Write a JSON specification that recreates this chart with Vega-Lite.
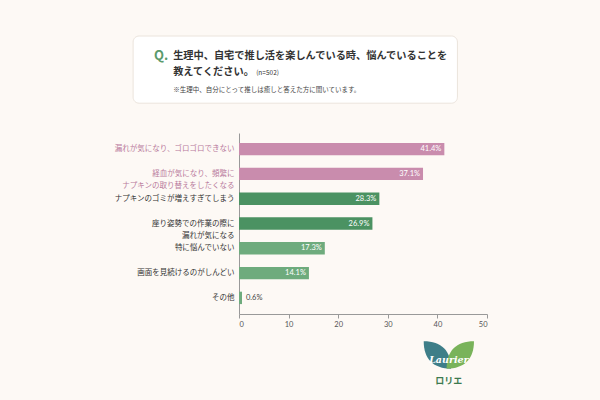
{
  "$schema": "https://vega.github.io/schema/vega-lite/v6.json",
  "background": "#fdf9f5",
  "padding": {"top": 35, "left": 114, "right": 112, "bottom": 11},
  "config": {
    "font": "Noto Sans CJK JP",
    "view": {"stroke": null},
    "concat": {"spacing": 13}
  },
  "vconcat": [
    {
      "width": 248,
      "height": 84,
      "layer": [
        {
          "data": {"values": [{"box": "question"}]},
          "mark": {"type": "rect", "fill": "#ffffff", "stroke": "#ebe4dc", "strokeWidth": 1, "cornerRadius": 6},
          "encoding": {
            "x": {"datum": -111, "type": "quantitative", "scale": {"domain": [0, 248]}, "axis": null},
            "x2": {"datum": 229},
            "y": {"datum": 0, "type": "quantitative", "scale": {"domain": [84, 0]}, "axis": null},
            "y2": {"datum": 72}
          }
        },
        {
          "data": {"values": [{"text": "Q."}]},
          "mark": {"type": "text", "align": "left", "baseline": "middle", "fontSize": 13, "fontWeight": "bold", "color": "#5b9a6c"},
          "encoding": {
            "x": {"datum": -89, "type": "quantitative"},
            "y": {"datum": 21, "type": "quantitative"},
            "text": {"field": "text"}
          }
        },
        {
          "data": {"values": [{"text": "生理中、自宅で推し活を楽しんでいる時、悩んでいることを"}]},
          "mark": {"type": "text", "align": "left", "baseline": "middle", "fontSize": 10.2, "fontWeight": "bold", "color": "#333333"},
          "encoding": {
            "x": {"datum": -69, "type": "quantitative"},
            "y": {"datum": 21, "type": "quantitative"},
            "text": {"field": "text"}
          }
        },
        {
          "data": {"values": [{"text": "教えてください。"}]},
          "mark": {"type": "text", "align": "left", "baseline": "middle", "fontSize": 10.2, "fontWeight": "bold", "color": "#333333"},
          "encoding": {
            "x": {"datum": -69, "type": "quantitative"},
            "y": {"datum": 39, "type": "quantitative"},
            "text": {"field": "text"}
          }
        },
        {
          "data": {"values": [{"text": "(n=502)"}]},
          "mark": {"type": "text", "align": "left", "baseline": "middle", "fontSize": 6.5, "color": "#333333"},
          "encoding": {
            "x": {"datum": 18, "type": "quantitative"},
            "y": {"datum": 40, "type": "quantitative"},
            "text": {"field": "text"}
          }
        },
        {
          "data": {"values": [{"text": "※生理中、自分にとって推しは癒しと答えた方に聞いています。"}]},
          "mark": {"type": "text", "align": "left", "baseline": "middle", "fontSize": 6.5, "color": "#444444"},
          "encoding": {
            "x": {"datum": -69, "type": "quantitative"},
            "y": {"datum": 58, "type": "quantitative"},
            "text": {"field": "text"}
          }
        }
      ]
    },
    {
      "width": 248,
      "height": 181,
      "data": {
        "values": [
          {"item": "漏れが気になり、ゴロゴロできない", "value": 41.4},
          {"item": "経血が気になり、頻繁に\nナプキンの取り替えをしたくなる", "value": 37.1},
          {"item": "ナプキンのゴミが増えすぎてしまう", "value": 28.3},
          {"item": "座り姿勢での作業の際に\n漏れが気になる", "value": 26.9},
          {"item": "特に悩んでいない", "value": 17.3},
          {"item": "画面を見続けるのがしんどい", "value": 14.1},
          {"item": "その他", "value": 0.6}
        ]
      },
      "transform": [{"calculate": "format(datum.value, '.1f') + '%'", "as": "label"}],
      "encoding": {
        "y": {
          "field": "item",
          "type": "nominal",
          "sort": null,
          "title": null,
          "scale": {"paddingInner": 0.5, "paddingOuter": 0.4},
          "axis": {
            "labelExpr": "split(datum.label, '\\n')",
            "labelFontSize": 7.5,
            "labelLineHeight": 12,
            "labelPadding": 5,
            "labelLimit": 200,
            "ticks": false,
            "domainColor": "#999999",
            "labelColor": {"condition": {"test": "indexof(datum.value, '漏れが気になり、ゴロゴロ') >= 0 || indexof(datum.value, '経血') >= 0", "value": "#b97a9c"}, "value": "#333333"}
          }
        },
        "x": {
          "field": "value",
          "type": "quantitative",
          "title": null,
          "scale": {"domain": [0, 50]},
          "axis": {
            "values": [0, 10, 20, 30, 40, 50],
            "grid": false,
            "labelFontSize": 7.5,
            "labelColor": "#555555",
            "domainColor": "#999999",
            "tickColor": "#999999",
            "tickSize": 4,
            "labelFont": "Lato"
          }
        }
      },
      "layer": [
        {
          "mark": {"type": "bar"},
          "encoding": {
            "color": {
              "condition": [
                {"test": "datum.value > 35", "value": "#c98cad"},
                {"test": "datum.value > 20", "value": "#4b9262"}
              ],
              "value": "#6eab7d"
            }
          }
        },
        {
          "transform": [{"filter": "datum.value >= 5"}],
          "mark": {"type": "text", "align": "right", "baseline": "middle", "dx": -3, "fontSize": 7.5, "color": "#ffffff", "font": "Lato"},
          "encoding": {"text": {"field": "label"}}
        },
        {
          "transform": [{"filter": "datum.value < 5"}],
          "mark": {"type": "text", "align": "left", "baseline": "middle", "dx": 4, "fontSize": 7.5, "color": "#444444", "font": "Lato"},
          "encoding": {"text": {"field": "label"}}
        }
      ]
    },
    {
      "width": 248,
      "height": 45,
      "layer": [
        {
          "data": {"values": [{"leaf": "left"}]},
          "mark": {"type": "point", "filled": true, "color": "#3e7e88", "opacity": 1, "size": 750, "shape": "M 1 1 C -0.3 1 -1 0.3 -1 -1 C 0.3 -1 1 -0.3 1 1 Z"},
          "encoding": {
            "x": {"datum": 208, "type": "quantitative", "scale": {"domain": [0, 248]}, "axis": null},
            "y": {"datum": 4, "type": "quantitative", "scale": {"domain": [45, 0]}, "axis": null}
          }
        },
        {
          "data": {"values": [{"leaf": "right"}]},
          "mark": {"type": "point", "filled": true, "color": "#79b35a", "opacity": 1, "size": 750, "shape": "M -1 1 C 0.3 1 1 0.3 1 -1 C -0.3 -1 -1 -0.3 -1 1 Z"},
          "encoding": {
            "x": {"datum": 232, "type": "quantitative"},
            "y": {"datum": 4, "type": "quantitative"}
          }
        },
        {
          "data": {"values": [{"text": "Laurier"}]},
          "mark": {"type": "text", "align": "center", "baseline": "middle", "fontSize": 9.5, "fontStyle": "italic", "fontWeight": "bold", "font": "DejaVu Serif", "color": "#ffffff"},
          "encoding": {
            "x": {"datum": 220, "type": "quantitative"},
            "y": {"datum": 9, "type": "quantitative"},
            "text": {"field": "text"}
          }
        },
        {
          "data": {"values": [{"text": "ロリエ"}]},
          "mark": {"type": "text", "align": "center", "baseline": "middle", "fontSize": 9, "fontWeight": "bold", "color": "#3d7a4f"},
          "encoding": {
            "x": {"datum": 220, "type": "quantitative"},
            "y": {"datum": 30, "type": "quantitative"},
            "text": {"field": "text"}
          }
        }
      ]
    }
  ]
}
